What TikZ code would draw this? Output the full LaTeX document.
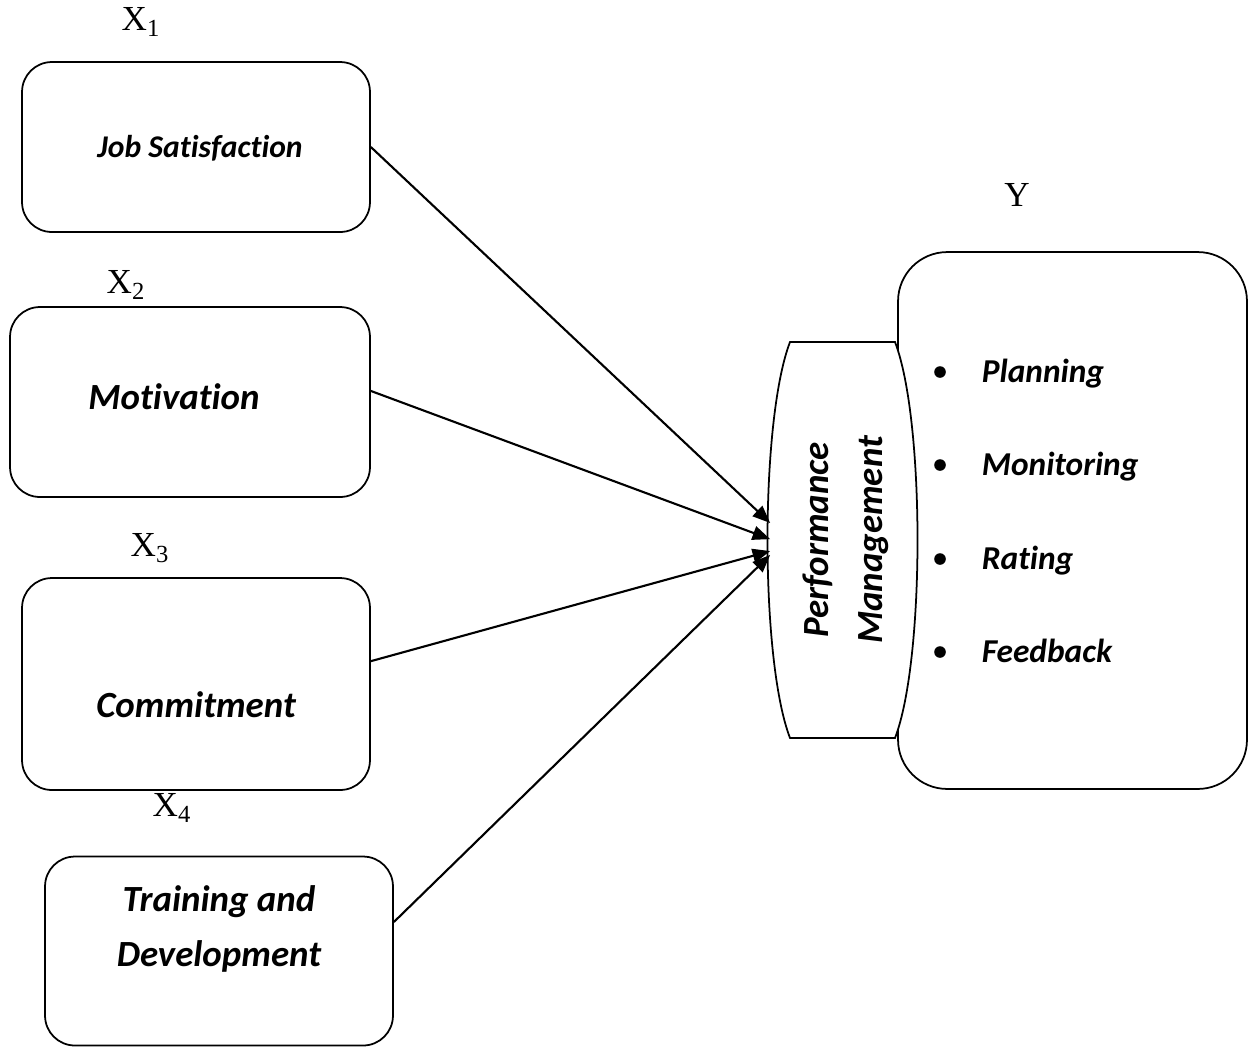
\documentclass[tikz,border=0pt]{standalone}
\usepackage{fontspec}
\setmainfont{Liberation Serif}
\newfontfamily\calibri[Ligatures={NoCommon}]{Carlito}
\usetikzlibrary{arrows.meta}

\begin{document}
\begin{tikzpicture}
        [x=0.02cm,y=-0.02cm,line width=1pt]
            \tikzstyle{box}=[draw, rounded corners=17pt, inner sep=0pt]
            \tikzstyle{txt}=[font=\calibri\bfseries\itshape\fontsize{21}{31}\selectfont, align=center, inner sep=0pt]
            \tikzstyle{var}=[font=\fontsize{20}{24}\selectfont, inner sep=0pt]
            \tikzstyle{link}=[line width=1.2pt, -{Triangle[length=10pt,width=8pt]}]
        \useasboundingbox (0,0) rectangle (1253,1046);

        %-----Y
         \node[box, rounded corners=28pt, minimum width=6.98cm, minimum height=10.74cm] (Yb) at (1072.5,520.5) {};
         \draw[fill=white] (790,342) -- (895,342) .. controls (925,420) and (925,660) .. (895,738)
              -- (790,738) .. controls (760,660) and (760,420) .. cycle;
         \node[txt, rotate=90, minimum width=7.92cm, minimum height=3cm] (PM) at (846,540) {Performance\\Management};
         \node[var] (Y) at (1017,195) {Y};

         \foreach \name/\y in {Planning/382, Monitoring/475, Rating/569, Feedback/662}
         {
         \fill (940,\y-10) circle (3.3pt);
         \node[txt, font=\calibri\bfseries\itshape\fontsize{19}{23}\selectfont, anchor=base west] (\name) at (981,\y) {\name};
         }

        %-----X
         \node[box, minimum width=6.96cm, minimum height=3.4cm]  (JS) at (196,147) {};
         \node[box, minimum width=7.2cm, minimum height=3.8cm]   (MO) at (190,402) {};
         \node[box, minimum width=6.96cm, minimum height=4.24cm] (CO) at (196,684) {};
         \node[box, minimum width=6.96cm, minimum height=3.78cm] (TD) at (219,951) {};

         \node[txt, font=\calibri\bfseries\itshape\fontsize{18}{22}\selectfont] (JSt) at (200,148) {Job Satisfaction};
         \node[txt] (MOt) at (174,397) {Motivation};
         \node[txt] (COt) at (196,705) {Commitment};
         \node[txt] (TDt) at (219,929) {Training and\\Development};

         \node[var] (X1) at (141,22) {X\textsubscript{1}};
         \node[var] (X2) at (126,285) {X\textsubscript{2}};
         \node[var] (X3) at (150,548) {X\textsubscript{3}};
         \node[var] (X4) at (172,808) {X\textsubscript{4}};

         \draw[link] (JS.east) -- ([yshift=9.7pt]PM.north);
         \draw[link] ([yshift=6.3pt]MO.east) -- ([yshift=0.5pt]PM.north);
         \draw[link] ([yshift=13pt]CO.east) -- ([yshift=-6.3pt]PM.north);
         \draw[link] ([yshift=16.5pt]TD.east) -- ([yshift=-8.5pt]PM.north);

    % variables X1..X4 -> Y
        \end{tikzpicture}
\end{document}
